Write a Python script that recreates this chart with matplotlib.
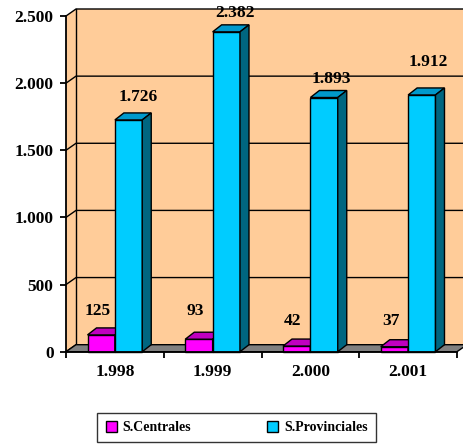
import numpy as np
import matplotlib.pyplot as plt
from matplotlib.patches import Polygon, Patch

years = ["1.998", "1.999", "2.000", "2.001"]
centrales = [125, 93, 42, 37]
provinciales = [1726, 2382, 1893, 1912]
yticks = [0, 500, 1000, 1500, 2000, 2500]
ytick_labels = ["0", "500", "1.000", "1.500", "2.000", "2.500"]
cent_labels = ["125", "93", "42", "37"]
prov_labels = ["1.726", "2.382", "1.893", "1.912"]

# label offsets in pixels (Excel moved them around a bit)
cent_off = [(-3.5, 24), (-3.5, 28), (-4.5, 25), (-4, 25.5)]
prov_off = [(10, 23), (8.5, 19), (7.5, 18.5), (6.5, 33)]

WALL = "#FFCC99"
FLOOR = "#808080"
MAG = ("#FF00FF", "#C000C0", "#990099")
CYA = ("#00CCFF", "#0099CC", "#006680")

plt.rcParams['font.family'] = ['Liberation Serif', 'DejaVu Serif']
plt.rcParams['font.weight'] = 'bold'

W, H = 464, 444
fig = plt.figure(figsize=(W / 100, H / 100), dpi=100)
x0, x1 = 66, 457
ytop, ybot = 16, 351.7
ax = fig.add_axes([x0 / W, (H - ybot) / H, (x1 - x0) / W, (ybot - ytop) / H])
ax.set_xlim(0, 4)
ax.set_ylim(0, 2500)
ax.patch.set_visible(False)

# pixels -> data units
px_x = 4 / (x1 - x0)
px_y = 2500 / (ybot - ytop)
wdx, wdy = 10 * px_x, 7 * px_y
bdx, bdy = 9 * px_x, 7 * px_y
xr = 4.3

def poly(pts, fc, z, lw=1.0):
    ax.add_patch(Polygon(pts, closed=True, facecolor=fc, edgecolor="black",
                         linewidth=lw, zorder=z, clip_on=False))

# walls and floor
poly([(wdx, wdy), (xr, wdy), (xr, 2500 + wdy), (wdx, 2500 + wdy)], WALL, 1, 0)
poly([(0, 0), (wdx, wdy), (wdx, 2500 + wdy), (0, 2500)], WALL, 1, 0)
for v in yticks:
    ax.plot([0, wdx, xr], [v, v + wdy, v + wdy], color="black", lw=1.0,
            zorder=1.5, clip_on=False)
ax.plot([wdx, wdx], [wdy, 2500 + wdy], color="black", lw=1.0, zorder=1.5, clip_on=False)
poly([(0, 0), (4, 0), (4 + wdx, wdy), (wdx, wdy)], FLOOR, 2)

# bars
w = 0.28

def bar3d(xl, v, cols, z):
    xr_ = xl + w
    poly([(xl, 0), (xr_, 0), (xr_, v), (xl, v)], cols[0], z)
    poly([(xl, v), (xr_, v), (xr_ + bdx, v + bdy), (xl + bdx, v + bdy)], cols[1], z)
    poly([(xr_, 0), (xr_ + bdx, bdy), (xr_ + bdx, v + bdy), (xr_, v)], cols[2], z)

for i in range(len(years)):
    c = i + 0.5
    bar3d(c - w, centrales[i], MAG, 3 + i)
    bar3d(c, provinciales[i], CYA, 3.5 + i)
    ax.annotate(cent_labels[i], (c - w / 2, centrales[i]), xytext=cent_off[i],
                textcoords="offset pixels", ha="center", va="center",
                fontsize=12.5, fontweight="bold", zorder=10)
    ax.annotate(prov_labels[i], (c + w / 2, provinciales[i]), xytext=prov_off[i],
                textcoords="offset pixels", ha="center", va="center",
                fontsize=12.5, fontweight="bold", zorder=10)

# axes
for s in ["top", "right"]:
    ax.spines[s].set_visible(False)
for s in ["left", "bottom"]:
    ax.spines[s].set_linewidth(1.3)
    ax.spines[s].set_zorder(20)
ax.set_yticks(yticks)
ax.set_yticklabels(ytick_labels, fontsize=12.5, fontweight="bold")
ax.set_xticks(range(5))
ax.set_xticklabels([])
ax.set_xticks(np.arange(len(years)) + 0.5, minor=True)
ax.set_xticklabels(years, minor=True, fontsize=12.5, fontweight="bold")
ax.tick_params(axis="both", which="major", length=4, width=1.3, direction="out")
ax.tick_params(axis="y", pad=5)
ax.tick_params(axis="x", which="minor", length=0, pad=9)

handles = [Patch(facecolor=MAG[0], edgecolor="black", label="S.Centrales"),
           Patch(facecolor=CYA[0], edgecolor="black", label="S.Provinciales")]
leg = fig.legend(handles=handles, loc="center", bbox_to_anchor=(236.5 / W, 16.5 / H),
                 ncol=2, frameon=True, fancybox=False, edgecolor="black",
                 prop={"size": 10, "weight": "bold"}, handlelength=0.8,
                 handleheight=0.8, handletextpad=0.4, columnspacing=5.5,
                 borderpad=0.6, borderaxespad=0)
leg.get_frame().set_linewidth(1.0)

fig.savefig("out.png", dpi=100)
